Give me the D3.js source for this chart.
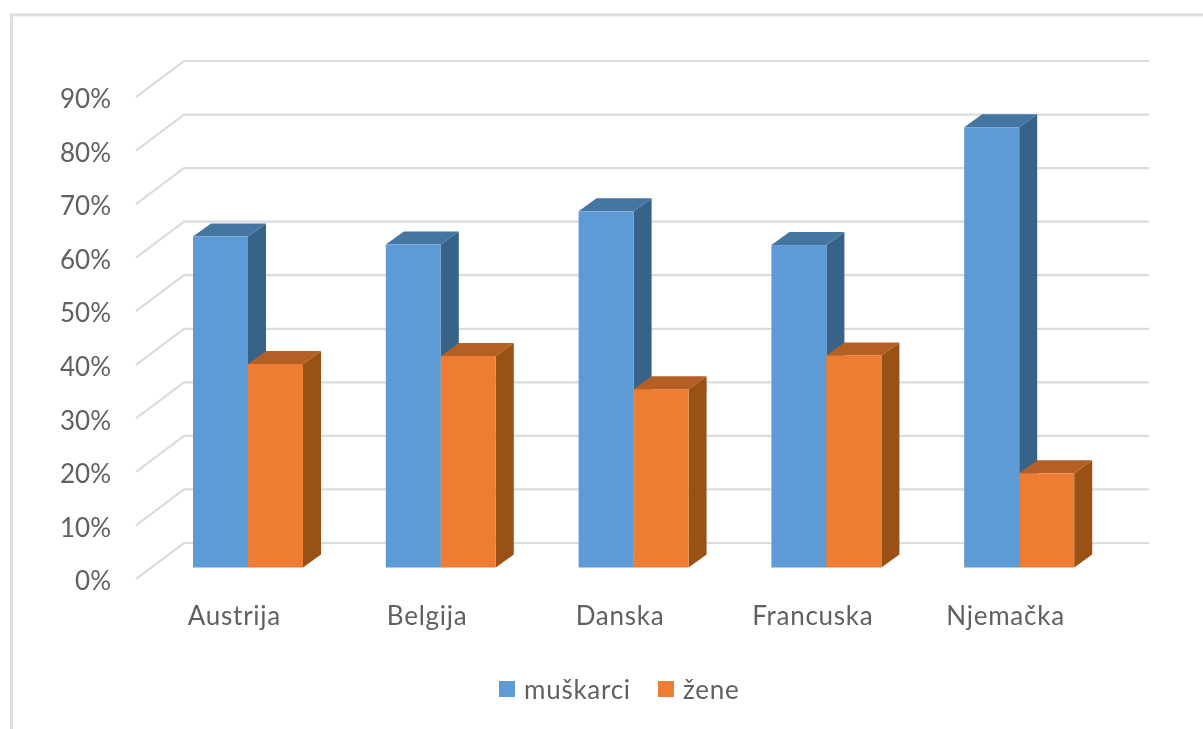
<!DOCTYPE html>
<html>
<head>
<meta charset="utf-8">
<script src="https://cdnjs.cloudflare.com/ajax/libs/d3/7.8.5/d3.min.js"></script>
<style>
  html, body { margin: 0; padding: 0; background: #fff; overflow: hidden; }
  text { font-family: Lato, "Open Sans", sans-serif; fill: #616161; }
</style>
</head>
<body>
<svg id="chart"></svg>
<script>
var categories = ["Austrija", "Belgija", "Danska", "Francuska", "Njemačka"];
var muskarci = [61.8, 60.3, 66.5, 60.2, 82.2];
var zene = [38, 39.5, 33.3, 39.6, 17.6];
var seriesNames = ["muškarci", "žene"];
var yTicks = [0, 10, 20, 30, 40, 50, 60, 70, 80, 90];

var width = 1203, height = 729;
var svg = d3.select("#chart").attr("width", width).attr("height", height);

// the reference is a slightly soft screenshot
var root = svg.append("g").attr("filter", "url(#soft)");
svg.append("defs").append("filter")
    .attr("id", "soft")
    .attr("filterUnits", "userSpaceOnUse")
    .attr("x", 0).attr("y", 0).attr("width", width).attr("height", height)
    .append("feGaussianBlur")
    .attr("stdDeviation", 0.45);
root.append("rect").attr("width", width).attr("height", height).attr("fill", "#fff");

// frame of the pasted chart, cut off on the right and at the bottom
root.append("path")
    .attr("d", "M11.5," + (height + 5) + "V15H" + (width + 5))
    .attr("fill", "none")
    .attr("stroke", "#dedede")
    .attr("stroke-width", 3);

var depthX = 48, depthY = 36; // wall depth of the 3d box
var barDepthX = 18, barDepthY = 13;

var x = d3.scaleBand().domain(categories).range([136, 1100]);
var y = d3.scaleLinear().domain([0, 90]).range([579, 97]);

// gridlines: diagonal on the side wall, then flat along the back wall
root.append("g").selectAll("path").data(yTicks).enter().append("path")
    .attr("d", function (d) {
        return "M136," + y(d) + "L" + (136 + depthX) + "," + (y(d) - depthY) + "H1149";
    })
    .attr("fill", "none")
    .attr("stroke", "#dcdcdc")
    .attr("stroke-width", 2.2);

var yAxis = d3.axisLeft(y).tickValues(yTicks).tickSize(0).tickPadding(0)
    .tickFormat(function (d) { return d + "%"; });
var yG = root.append("g").attr("transform", "translate(111,0)").call(yAxis);
yG.select(".domain").remove();
yG.selectAll("text").style("font-size", "26px").attr("dy", "0.41em");

var xAxis = d3.axisBottom(x).tickSize(0).tickPadding(0);
var xG = root.append("g").attr("transform", "translate(2,625)").call(xAxis);
xG.select(".domain").remove();
xG.selectAll("text").style("font-size", "26px").style("letter-spacing", "0.75px").attr("dy", 0);

var colors = [
    { front: "#5b9bd5", top: "#4475a1", side: "#376389" },
    { front: "#ed7d31", top: "#b35f25", side: "#9a5119" }
];
var barWidth = 55;
var barInset = 57; // from the band start to the first bar
var base = 567.5;
var floorShift = y(0) - base;

function drawBar(g, left, value, c) {
    var top = y(value) - floorShift;
    var right = left + barWidth;
    g.append("path") // side
        .attr("fill", c.side)
        .attr("d", "M" + right + "," + top + "l" + barDepthX + "," + (-barDepthY) +
            "V" + (base - barDepthY) + "L" + right + "," + base + "Z");
    g.append("path") // top
        .attr("fill", c.top)
        .attr("d", "M" + left + "," + top + "l" + barDepthX + "," + (-barDepthY) +
            "h" + barWidth + "L" + right + "," + top + "Z");
    g.append("rect") // front
        .attr("fill", c.front)
        .attr("x", left).attr("y", top)
        .attr("width", barWidth).attr("height", base - top);
}

var bars = root.append("g");
categories.forEach(function (cat, i) {
    var g = bars.append("g");
    var left = x(cat) + barInset;
    drawBar(g, left, muskarci[i], colors[0]);
    drawBar(g, left + barWidth, zene[i], colors[1]);
});

var legendX = [499, 658];
var legend = root.append("g");
seriesNames.forEach(function (name, i) {
    legend.append("rect")
        .attr("x", legendX[i]).attr("y", 681)
        .attr("width", 16).attr("height", 16)
        .attr("fill", colors[i].front);
    legend.append("text")
        .attr("x", legendX[i] + 25).attr("y", 699)
        .style("font-size", "26px")
        .style("letter-spacing", "0.75px")
        .text(name);
});
</script>
</body>
</html>
